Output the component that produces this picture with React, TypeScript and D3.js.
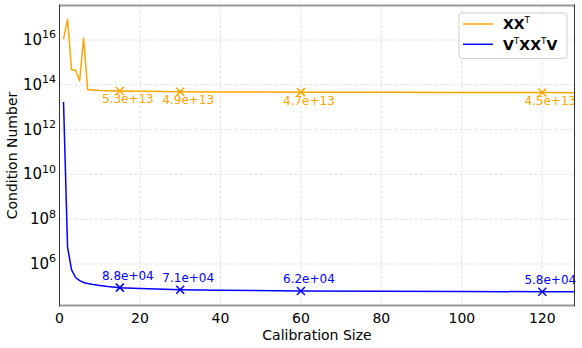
import React from 'react';
import * as d3 from 'd3';

// calibration sizes and condition numbers
const xxSizes = [1, 2, 3, 4, 5, 6, 7, 8, 10, 15, 20, 30, 40, 60, 80, 100, 120, 128];
const xxValues = [1.1e16, 8.4e16, 4.6e14, 4.6e14, 1.5e14, 1.2e16, 6.1e13, 5.9e13, 5.6e13, 5.3e13, 5.1e13, 4.9e13, 4.8e13, 4.7e13, 4.6e13, 4.55e13, 4.5e13, 4.45e13];

const vxxvSizes = [1, 2, 3, 4, 5, 6, 7, 8, 10, 12, 15, 20, 30, 40, 60, 80, 100, 120, 128];
const vxxvValues = [1.7e13, 5.7e6, 5.5e5, 2.5e5, 1.8e5, 1.5e5, 1.35e5, 1.25e5, 1.1e5, 9.8e4, 8.8e4, 8.0e4, 7.1e4, 6.7e4, 6.2e4, 6.0e4, 5.9e4, 5.8e4, 5.8e4];

const markSizes = [15, 30, 60, 120];
const xxMarkLabels = ['5.3e+13', '4.9e+13', '4.7e+13', '4.5e+13'];
const vxxvMarkLabels = ['8.8e+04', '7.1e+04', '6.2e+04', '5.8e+04'];

const xTicks = [0, 20, 40, 60, 80, 100, 120];
const yTickExps = [6, 8, 10, 12, 14, 16];

const W = 582, H = 348;
const M = { left: 59.5, right: 574.5, top: 5.5, bottom: 305.5 };
const ORANGE = '#ffa500';
const BLUE = '#0000ff';
const FONT = 'DejaVu Sans, sans-serif';

export default function App() {
  const x = d3.scaleLinear().domain([0, 128]).range([M.left, M.right]);
  const y = d3.scaleLog().domain([Math.pow(10, 4.147), Math.pow(10, 17.54)]).range([M.bottom, M.top]);

  const line = d3.line<[number, number]>().x(d => x(d[0])).y(d => y(d[1]));
  const xxPts = xxSizes.map((s, i) => [s, xxValues[i]] as [number, number]);
  const vPts = vxxvSizes.map((s, i) => [s, vxxvValues[i]] as [number, number]);
  const valAt = (sizes: number[], vals: number[], s: number) => vals[sizes.indexOf(s)];

  const cross = (cx: number, cy: number, color: string, k: string) => (
    <path key={k} d={`M${cx - 4},${cy - 4}L${cx + 4},${cy + 4}M${cx - 4},${cy + 4}L${cx + 4},${cy - 4}`}
      stroke={color} strokeWidth={1.5} fill="none" />
  );

  return (
    <svg width={W} height={H} style={{ position: 'absolute', left: 0, top: 0, background: '#fff' }} fontFamily={FONT}>
      <defs>
        <clipPath id="plot">
          <rect x={M.left} y={M.top} width={M.right - M.left} height={M.bottom - M.top} />
        </clipPath>
      </defs>

      {/* grid */}
      {xTicks.map(t => (
        <line key={'gx' + t} x1={x(t)} x2={x(t)} y1={M.top} y2={M.bottom} stroke="#dcdcdc" strokeDasharray="3,2" strokeWidth={0.9} />
      ))}
      {yTickExps.map(e => (
        <line key={'gy' + e} x1={M.left} x2={M.right} y1={y(Math.pow(10, e))} y2={y(Math.pow(10, e))} stroke="#dcdcdc" strokeDasharray="3,2" strokeWidth={0.9} />
      ))}

      {/* lines */}
      <g clipPath="url(#plot)">
        <path d={line(xxPts) || ''} fill="none" stroke={ORANGE} strokeWidth={1.5} strokeLinejoin="round" />
        <path d={line(vPts) || ''} fill="none" stroke={BLUE} strokeWidth={1.5} strokeLinejoin="round" />
      </g>

      {/* markers + annotations */}
      {markSizes.map((s, i) => {
        const cx = x(s), cy = y(valAt(xxSizes, xxValues, s));
        return (
          <g key={'xm' + s}>
            {cross(cx, cy, ORANGE, 'c')}
            <text x={cx + 8} y={cy + 12.5} fontSize={12} fill={ORANGE} textAnchor="middle">{xxMarkLabels[i]}</text>
          </g>
        );
      })}
      {markSizes.map((s, i) => {
        const cx = x(s), cy = y(valAt(vxxvSizes, vxxvValues, s));
        return (
          <g key={'vm' + s}>
            {cross(cx, cy, BLUE, 'c')}
            <text x={cx + 8} y={cy - 8} fontSize={12} fill={BLUE} textAnchor="middle">{vxxvMarkLabels[i]}</text>
          </g>
        );
      })}

      {/* spines */}
      <line x1={M.left} x2={M.right} y1={M.top} y2={M.top} stroke="#999" strokeWidth={2} />
      <line x1={M.left} x2={M.right} y1={M.bottom} y2={M.bottom} stroke="#999" strokeWidth={2} />
      <line x1={M.left} x2={M.left} y1={M.top - 1} y2={M.bottom + 1} stroke="#333" strokeWidth={1} />
      <line x1={M.right} x2={M.right} y1={M.top - 1} y2={M.bottom + 1} stroke="#333" strokeWidth={1} />

      {/* tick labels */}
      {xTicks.map(t => (
        <text key={'tx' + t} x={x(t)} y={322.5} fontSize={14} textAnchor="middle" fill="#000">{t}</text>
      ))}
      {yTickExps.map(e => (
        <text key={'ty' + e} x={56} y={y(Math.pow(10, e)) + 5} fontSize={15} textAnchor="end" fill="#000">
          10<tspan fontSize={11} dy={-6.5}>{e}</tspan>
        </text>
      ))}

      {/* axis labels */}
      <text x={(M.left + M.right) / 2} y={339.5} fontSize={14} textAnchor="middle" fill="#000">Calibration Size</text>
      <text transform={`translate(17,${(M.top + M.bottom) / 2}) rotate(-90)`} fontSize={14} textAnchor="middle" fill="#000">Condition Number</text>

      {/* legend */}
      <g>
        <rect x={459} y={13} width={108} height={45.5} rx={3} fill="#fff" fillOpacity={0.85} stroke="#d0d0d0" strokeWidth={1} />
        <line x1={463} x2={493} y1={24} y2={24} stroke={ORANGE} strokeWidth={1.5} />
        <line x1={463} x2={493} y1={44.3} y2={44.3} stroke={BLUE} strokeWidth={1.5} />
        <text x={503} y={29} fontSize={14} fill="#000">
          <tspan fontWeight="bold">XX</tspan><tspan fontSize={9} dy={-6}>T</tspan>
        </text>
        <text x={503} y={49.5} fontSize={14} fill="#000">
          <tspan fontWeight="bold">V</tspan><tspan fontSize={9} dy={-6}>T</tspan>
          <tspan fontWeight="bold" dy={6}>XX</tspan><tspan fontSize={9} dy={-6}>T</tspan>
          <tspan fontWeight="bold" dy={6}>V</tspan>
        </text>
      </g>
    </svg>
  );
}
